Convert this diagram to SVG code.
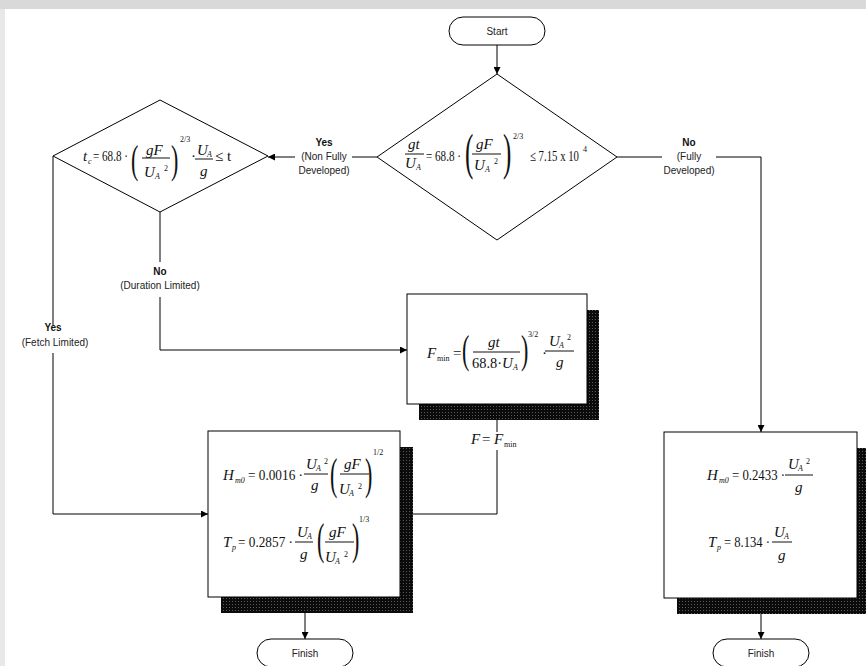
<svg xmlns="http://www.w3.org/2000/svg" width="866" height="666" viewBox="0 0 866 666">
<style>
.ln{fill:none;stroke:#000;stroke-width:1}
.nd{fill:#fff;stroke:#000;stroke-width:1}
.sh{fill:url(#dots);stroke:none}
.m{font-family:"Liberation Serif","Times New Roman",serif;font-size:15px;fill:#111}
.i{font-style:italic}
.s{font-size:8px}
.p{font-family:"Liberation Serif","Times New Roman",serif;fill:#111;font-weight:normal}
.lbl{font-family:"Liberation Sans",Arial,sans-serif;font-size:10px;fill:#222;text-anchor:middle}
.b{font-weight:bold;fill:#111}
.bar{stroke:#111;stroke-width:1}
</style>
<defs>
<pattern id="dots" width="3" height="3" patternUnits="userSpaceOnUse">
<rect width="3" height="3" fill="#0b0b0b"/>
<rect x="1" y="1" width="1" height="1" fill="#5a5a5a"/>
</pattern>
<marker id="ah" viewBox="0 0 10 10" refX="10" refY="5" markerWidth="9" markerHeight="7" markerUnits="userSpaceOnUse" orient="auto">
<path d="M0,0 L10,5 L0,10 z" fill="#000"/>
</marker>
</defs>
<rect width="866" height="666" fill="#fff"/>
<rect x="0" y="0" width="866" height="9" fill="#d9d9d9"/>
<rect x="0" y="9" width="5" height="657" fill="#e8e8e8"/>

<g id="connectors">
<path class="ln" d="M497,45 V74" marker-end="url(#ah)"/>
<path class="ln" d="M377,157 H352"/>
<path class="ln" d="M295,157 H268" marker-end="url(#ah)"/>
<path class="ln" d="M617,157 H662"/>
<path class="ln" d="M716,157 H761 V432" marker-end="url(#ah)"/>
<path class="ln" d="M160,212 V262"/>
<path class="ln" d="M160,297 V350 H407" marker-end="url(#ah)"/>
<path class="ln" d="M53,156 V325"/>
<path class="ln" d="M53,353 V514 H208" marker-end="url(#ah)"/>
<path class="ln" d="M497,420 V432"/>
<path class="ln" d="M497,450 V514 H413"/>
<path class="ln" d="M305,613 V639" marker-end="url(#ah)"/>
<path class="ln" d="M761,614 V639" marker-end="url(#ah)"/>
</g>

<g id="edge-labels">
<text class="lbl b" x="324" y="146">Yes</text>
<text class="lbl" x="324" y="160">(Non Fully</text>
<text class="lbl" x="324" y="174">Developed)</text>
<text class="lbl b" x="689" y="146">No</text>
<text class="lbl" x="689" y="160">(Fully</text>
<text class="lbl" x="689" y="174">Developed)</text>
<text class="lbl b" x="160" y="275">No</text>
<text class="lbl" x="160" y="289">(Duration Limited)</text>
<text class="lbl b" x="53" y="331">Yes</text>
<text class="lbl" x="55" y="346">(Fetch Limited)</text>
<text class="m i" x="471" y="444">F</text>
<text class="m" x="482" y="444">=</text>
<text class="m i" x="494" y="444">F</text>
<text class="m s" x="504" y="447">min</text>
</g>

<g id="start">
<rect class="nd" x="449" y="17" width="96" height="28" rx="14"/>
<text class="lbl" x="497" y="35">Start</text>
</g>

<g id="decision-main">
<polygon class="nd" points="497,74 617,157 497,240 377,157"/>
<text class="m i" x="408" y="149">gt</text>
<line class="bar" x1="405" y1="154" x2="424" y2="154"/>
<text class="m i" x="405" y="168">U</text>
<text class="m i s" x="416" y="170">A</text>
<text class="m" x="426" y="161" textLength="35" lengthAdjust="spacingAndGlyphs">= 68.8 ·</text>
<text class="p" font-size="50" transform="translate(465,169) scale(0.5,1)">(</text>
<text class="m i" x="476" y="149">gF</text>
<line class="bar" x1="472" y1="154" x2="501" y2="154"/>
<text class="m i" x="474" y="170">U</text>
<text class="m i s" x="485" y="172">A</text>
<text class="m s" x="494" y="164">2</text>
<text class="p" font-size="50" transform="translate(503,169) scale(0.5,1)">)</text>
<text class="m s" x="513" y="139">2/3</text>
<text class="m" x="530" y="161" textLength="49" lengthAdjust="spacingAndGlyphs">≤ 7.15 x 10</text>
<text class="m s" x="583" y="152">4</text>
</g>

<g id="decision-duration">
<polygon class="nd" points="160,100 268,156 160,212 53,156"/>
<text class="m i" x="83" y="161">t</text>
<text class="m i s" x="88" y="164">c</text>
<text class="m" x="93" y="161" textLength="35" lengthAdjust="spacingAndGlyphs">= 68.8 ·</text>
<text class="p" font-size="40" transform="translate(131,173) scale(0.55,1)">(</text>
<text class="m i" x="146" y="155">gF</text>
<line class="bar" x1="142" y1="158" x2="170" y2="158"/>
<text class="m i" x="144" y="177">U</text>
<text class="m i s" x="155" y="179">A</text>
<text class="m s" x="164" y="171">2</text>
<text class="p" font-size="40" transform="translate(171,173) scale(0.55,1)">)</text>
<text class="m s" x="180" y="142">2/3</text>
<text class="m" x="191" y="161">·</text>
<text class="m i" x="197" y="155">U</text>
<text class="m i s" x="207" y="157">A</text>
<line class="bar" x1="195" y1="159" x2="213" y2="159"/>
<text class="m i" x="200" y="176">g</text>
<text class="m" x="215" y="161">≤ t</text>
</g>

<g id="fmin">
<rect class="sh" x="419" y="310" width="180" height="110"/>
<rect class="nd" x="407" y="294" width="180" height="110"/>
<text class="m i" x="427" y="358">F</text>
<text class="m s" x="437" y="361">min</text>
<text class="m" x="453" y="358">=</text>
<text class="p" font-size="40" transform="translate(462,363) scale(0.55,1)">(</text>
<text class="m i" x="488" y="347">gt</text>
<line class="bar" x1="473" y1="352" x2="520" y2="352"/>
<text class="m" x="472" y="368" textLength="30" lengthAdjust="spacingAndGlyphs">68.8·</text>
<text class="m i" x="502" y="368">U</text>
<text class="m i s" x="513" y="370">A</text>
<text class="p" font-size="40" transform="translate(521,363) scale(0.55,1)">)</text>
<text class="m s" x="528" y="337">3/2</text>
<text class="m" x="542" y="358">·</text>
<text class="m i" x="549" y="346">U</text>
<text class="m i s" x="559" y="348">A</text>
<text class="m s" x="567" y="340">2</text>
<line class="bar" x1="545" y1="351" x2="574" y2="351"/>
<text class="m i" x="556" y="367">g</text>
</g>

<g id="fetch-limited">
<rect class="sh" x="221" y="447" width="192" height="166"/>
<rect class="nd" x="208" y="431" width="192" height="166"/>
<text class="m i" x="223" y="480">H</text>
<text class="m i s" x="235" y="483">m0</text>
<text class="m" x="248" y="480" textLength="55" lengthAdjust="spacingAndGlyphs">= 0.0016 ·</text>
<text class="m i" x="306" y="469">U</text>
<text class="m i s" x="316" y="471">A</text>
<text class="m s" x="324" y="464">2</text>
<line class="bar" x1="304" y1="474" x2="328" y2="474"/>
<text class="m i" x="311" y="490">g</text>
<text class="p" font-size="44" transform="translate(330,489) scale(0.5,1)">(</text>
<text class="m i" x="344" y="469">gF</text>
<line class="bar" x1="340" y1="474" x2="369" y2="474"/>
<text class="m i" x="339" y="494">U</text>
<text class="m i s" x="349" y="496">A</text>
<text class="m s" x="358" y="489">2</text>
<text class="p" font-size="44" transform="translate(365,489) scale(0.5,1)">)</text>
<text class="m s" x="373" y="455">1/2</text>
<text class="m i" x="223" y="547">T</text>
<text class="m i s" x="232" y="550">p</text>
<text class="m" x="238" y="547" textLength="55" lengthAdjust="spacingAndGlyphs">= 0.2857 ·</text>
<text class="m i" x="297" y="537">U</text>
<text class="m i s" x="307" y="539">A</text>
<line class="bar" x1="295" y1="542" x2="313" y2="542"/>
<text class="m i" x="300" y="559">g</text>
<text class="p" font-size="44" transform="translate(317,554) scale(0.5,1)">(</text>
<text class="m i" x="329" y="537">gF</text>
<line class="bar" x1="325" y1="542" x2="354" y2="542"/>
<text class="m i" x="325" y="562">U</text>
<text class="m i s" x="335" y="564">A</text>
<text class="m s" x="344" y="557">2</text>
<text class="p" font-size="44" transform="translate(352,554) scale(0.5,1)">)</text>
<text class="m s" x="359" y="522">1/3</text>
</g>

<g id="fully-developed">
<rect class="sh" x="677" y="448" width="193" height="166"/>
<rect class="nd" x="664" y="432" width="193" height="166"/>
<text class="m i" x="707" y="480">H</text>
<text class="m i s" x="719" y="483">m0</text>
<text class="m" x="732" y="480" textLength="53" lengthAdjust="spacingAndGlyphs">= 0.2433 ·</text>
<text class="m i" x="788" y="469">U</text>
<text class="m i s" x="798" y="471">A</text>
<text class="m s" x="806" y="464">2</text>
<line class="bar" x1="785" y1="475" x2="813" y2="475"/>
<text class="m i" x="795" y="492">g</text>
<text class="m i" x="708" y="547">T</text>
<text class="m i s" x="717" y="550">p</text>
<text class="m" x="724" y="547" textLength="46" lengthAdjust="spacingAndGlyphs">= 8.134 ·</text>
<text class="m i" x="774" y="537">U</text>
<text class="m i s" x="784" y="539">A</text>
<line class="bar" x1="772" y1="542" x2="792" y2="542"/>
<text class="m i" x="778" y="560">g</text>
</g>

<g id="finish-left">
<rect class="nd" x="257" y="639" width="96" height="28" rx="14"/>
<text class="lbl" x="305" y="657">Finish</text>
</g>
<g id="finish-right">
<rect class="nd" x="713" y="639" width="96" height="28" rx="14"/>
<text class="lbl" x="761" y="657">Finish</text>
</g>
</svg>
